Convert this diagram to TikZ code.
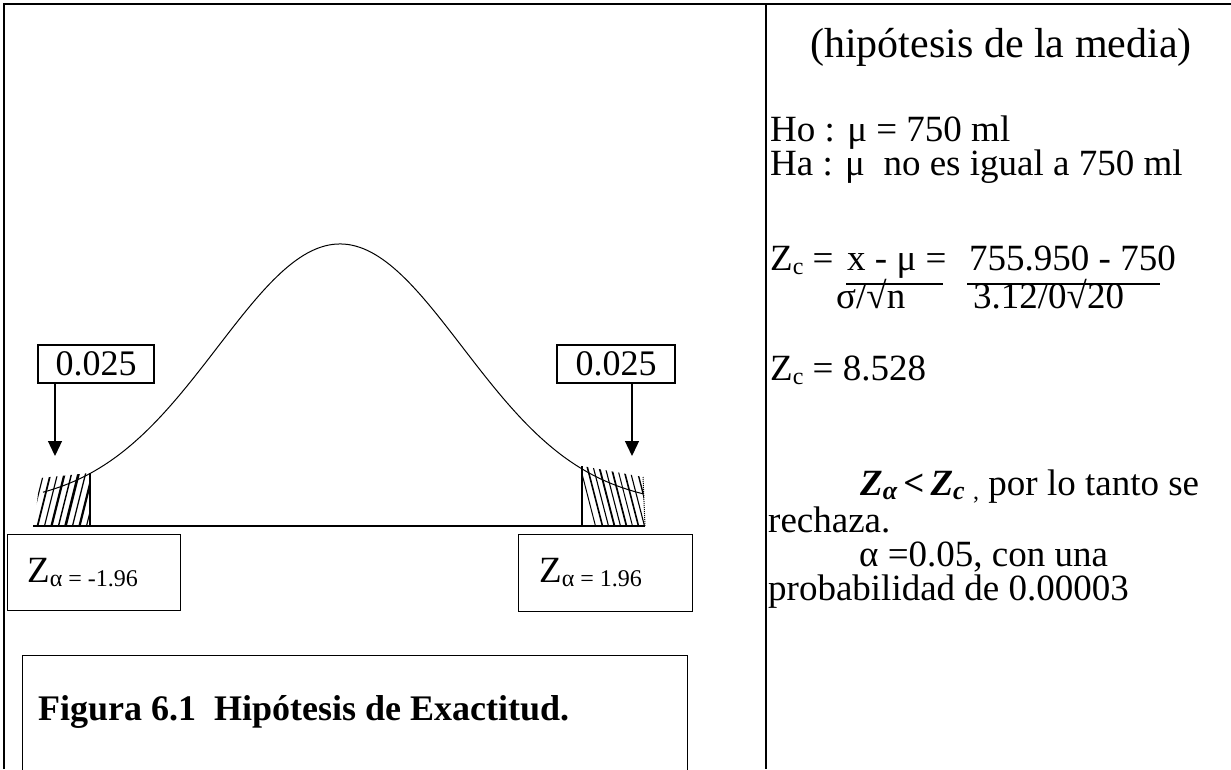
\documentclass[tikz,border=0pt]{standalone}
\usepackage{fontspec}
\setmainfont{Liberation Serif}
\usetikzlibrary{arrows.meta}
\newcommand\mysub[2][24]{\raisebox{-4pt}{\fontsize{#1}{#1}\selectfont #2}}
\begin{document}
\begin{tikzpicture}[x=1pt,y=-1pt,
  frame/.style={line width=1.4pt},
  boxn/.style={draw, line width=1.3pt, inner sep=0pt},
  txt/.style={anchor=base west, inner sep=0pt, font=\fontsize{37}{40}\selectfont},
  ptr/.style={line width=1.3pt, -{Triangle[length=15pt,width=14pt]}},
  curvel/.style={line width=1pt}]
\useasboundingbox (0,0) rectangle (1231,769);
% frame
\coordinate (fbl) at (4,769);
\coordinate (ftl) at (4,4);
\coordinate (ftr) at (1231,4);
\coordinate (dtop) at (766,4);
\coordinate (dbot) at (766,769);
\draw[frame] (fbl) -- (ftl) -- (ftr);
\draw[frame] (dtop) -- (dbot);

% axis
\coordinate (a0) at (33,526);
\coordinate (a1) at (645,526);
\draw[line width=1.4pt] (a0) -- (a1);

% hatched tails
\begin{scope}
  \clip (40,478) -- (90,473) -- (90,526) -- (34,526) -- cycle;
  \foreach \x/\w in {30/1.2,37/1.8,44/1.1,51/2.2,58/1.4,65/2.6,72/1.3,79/2.2,86/1.1}
    \draw[line width=\w pt] (\x,528) -- (\x+14,472);
\end{scope}
\begin{scope}
  \clip (582,466) -- (643,477) -- (645,526) -- (582,526) -- cycle;
  \foreach \x/\w in {580/1,587/1.6,593/1.1,599/1.8,605/1.1,611/1.7,617/1,623/1.6,629/1.1,636/1.4}
    \draw[line width=\w pt] (\x,466) -- (\x+16,528);
\end{scope}
\coordinate (vl0) at (90,473);
\coordinate (vl1) at (90,526);
\coordinate (vr0) at (582,466);
\coordinate (vr1) at (582,526);
\coordinate (he0) at (643,477);
\coordinate (he1) at (645,526);
\draw[line width=1.2pt] (vl0) -- (vl1);
\draw[line width=1.2pt] (vr0) -- (vr1);
\draw[line width=1pt, densely dotted] (he0) -- (he1);

% curve
\draw[curvel] plot[domain=43:643, samples=160] (\x, {506-262*exp(-((\x-340)/100)^2/2.9952)});

% 0.025 boxes and arrows
\node[boxn, minimum width=116pt, minimum height=38pt, font=\fontsize{36}{40}\selectfont] (p1) at (96,364) {0.025};
\node[boxn, minimum width=118pt, minimum height=38pt, font=\fontsize{36}{40}\selectfont] (p2) at (616,364) {0.025};
\coordinate (t1) at (55,456);
\coordinate (t2) at (632,456);
\draw[ptr] (p1.south west -| t1) -- (t1);
\draw[ptr] (p2.south west -| t2) -- (t2);

% Z boxes
\node[boxn, minimum width=173pt, minimum height=76pt, anchor=north west] (z1) at (7,534) {};
\node[boxn, minimum width=174pt, minimum height=77pt, anchor=north west] (z2) at (518,534) {};
\node[txt] (z1t) at (27,582) {Z\mysub[24]{α = -1.96}};
\node[txt] (z2t) at (539,582) {Z\mysub[24]{α = 1.96}};

% caption box
\node[boxn, minimum width=665pt, minimum height=140pt, anchor=north west] (figb) at (22,655) {};
\node[anchor=base west, inner sep=0pt, font=\bfseries\fontsize{36}{40}\selectfont] (fig) at (38,720) {Figura 6.1\ \ Hipótesis de Exactitud.};

% right panel
\node[anchor=base, inner sep=0pt, font=\fontsize{42}{48}\selectfont] (head) at (1001,57) {(hipótesis de la media)};
\node[txt] (ho) at (770,141) {Ho : μ = 750 ml};
\node[txt] (ha) at (770,175) {Ha : μ\ \ no es igual a 750 ml};
\node[txt] (zc1) at (770,270) {Z\mysub{c} =};
\node[txt] (num1) at (847,270) {x - μ =};
\node[txt] (num2) at (969,270) {755.950 - 750};
\coordinate (b1a) at (846,284);
\coordinate (b1b) at (943,284);
\coordinate (b2a) at (967,284);
\coordinate (b2b) at (1160,284);
\draw[line width=1.3pt] (b1a) -- (b1b);
\draw[line width=1.3pt] (b2a) -- (b2b);
\node[txt] (den1) at (836,308) {σ/√n};
\node[txt] (den2) at (973,308) {3.12/0√20};
\node[txt] (zc2) at (770,380) {Z\mysub{c} = 8.528};
\node[txt] (zz) at (860,495) {\bfseries\itshape Z\mysub[26]{α}\,<\,Z\mysub[26]{c}};
\node[txt] (plt) at (973,495) {\mysub{,}\ por lo tanto se};
\node[txt] (rch) at (768,532) {rechaza.};
\node[txt] (alf) at (859,566) {α =0.05, con una};
\node[txt] (prob) at (768,600) {probabilidad de 0.00003};
\end{tikzpicture}
\end{document}
